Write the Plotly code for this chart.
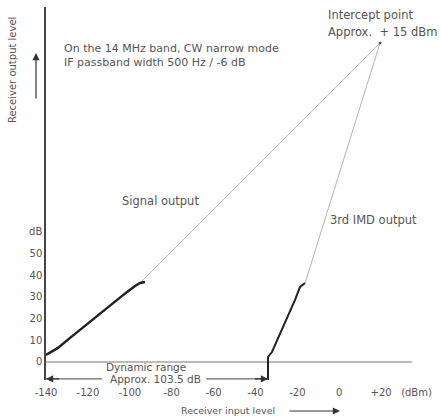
import plotly.graph_objects as go

# ---- data ----
x_ticks = [-140, -120, -100, -80, -60, -40, -20, 0, 20, 36.9]
x_tick_text = ["-140", "-120", "-100", "-80", "-60", "-40", "-20", "0", "+20", "(dBm)"]
y_ticks = [0, 10, 20, 30, 40, 50, 60]
y_tick_text = ["0", "10", "20", "30", "40", "50", "dB"]

# measured signal output (thick curve)
sig_x = [-140, -134.3, -128.5, -121.4, -114.2, -107, -101.3, -97.5, -95.1, -92.7]
sig_y = [3.2, 6.5, 11.1, 16.6, 22.6, 28.1, 32.3, 35.0, 36.4, 36.9]

# measured 3rd IMD output (thick curve)
imd_x = [-34, -34, -32.1, -26.8, -21.1, -18.7, -16.3]
imd_y = [-8.3, 2.3, 4.6, 16.1, 28.6, 34.6, 36.4]

# intercept point
ip_x, ip_y = 19.5, 147.0
# extrapolation start points
sig_ext_start = (-95.1, 36.4)
imd_ext_start = (-16.3, 36.4)

# noise floor / baseline
base_x = [-140, 34.8]
base_y = [0, 0]

# dynamic range arrow
dr_y = -7.8
dr_left, dr_right = -140, -34

TXT = "#555555"
FONT = "DejaVu Sans"

fig = go.Figure()

fig.add_trace(go.Scatter(x=base_x, y=base_y, mode="lines",
                         line=dict(color="#a8a2a0", width=1.5), cliponaxis=False, hoverinfo="skip"))
fig.add_trace(go.Scatter(x=[sig_ext_start[0], ip_x], y=[sig_ext_start[1], ip_y], mode="lines",
                         line=dict(color="#b4b4b4", width=1), cliponaxis=False, hoverinfo="skip"))
fig.add_trace(go.Scatter(x=[imd_ext_start[0], ip_x], y=[imd_ext_start[1], ip_y], mode="lines",
                         line=dict(color="#b4b4b4", width=1), cliponaxis=False, hoverinfo="skip"))
fig.add_trace(go.Scatter(x=sig_x, y=sig_y, mode="lines",
                         line=dict(color="#222222", width=2.5), cliponaxis=False, hoverinfo="skip"))
fig.add_trace(go.Scatter(x=imd_x, y=imd_y, mode="lines",
                         line=dict(color="#222222", width=2), cliponaxis=False, hoverinfo="skip"))
fig.add_trace(go.Scatter(x=[ip_x], y=[ip_y], mode="markers",
                         marker=dict(color="#555555", size=3), cliponaxis=False, hoverinfo="skip"))
# dynamic range line segments (broken by the label)
fig.add_trace(go.Scatter(x=[dr_left, -113.3], y=[dr_y, dr_y], mode="lines",
                         line=dict(color="#444444", width=1), cliponaxis=False, hoverinfo="skip"))
fig.add_trace(go.Scatter(x=[-63.5, dr_right], y=[dr_y, dr_y], mode="lines",
                         line=dict(color="#444444", width=1), cliponaxis=False, hoverinfo="skip"))

ann = []
def arrow(x, y, ax, ay):
    ann.append(dict(x=x, y=y, ax=ax, ay=ay, xref="x", yref="y", axref="x", ayref="y",
                    text="", showarrow=True, arrowhead=2, arrowsize=1.2, arrowwidth=1.2,
                    arrowcolor="#333333"))

def parrow(x, y, ax, ay):
    ann.append(dict(x=x, y=y, ax=ax, ay=ay, xref="paper", yref="paper",
                    text="", showarrow=True, arrowhead=2, arrowsize=1.2, arrowwidth=1.2,
                    arrowcolor="#333333"))

arrow(dr_left, dr_y, -133, dr_y)
arrow(dr_right, dr_y, -41, dr_y)
parrow(-0.0253, 0.8767, 0, 47)
parrow(0.7443, -0.0831, -52, 0)

def text(x, y, t, xanchor="left", size=11.5, angle=0, ref="x"):
    ann.append(dict(x=x, y=y, xref=ref if ref == "x" else "paper",
                    yref="y" if ref == "x" else "paper", text=t, showarrow=False,
                    xanchor=xanchor, yanchor="middle", align="left", textangle=angle,
                    font=dict(family=FONT, size=size, color=TXT)))

text(-132.4, 144.3, "On the 14 MHz band, CW narrow mode", size=11)
text(-132.4, 138.0, "IF passband width 500 Hz / -6 dB", size=11)
text(-6.3, 159.9, "Intercept point")
text(-6.3, 152.1, "Approx.  + 15 dBm")
text(-85.1, 74.2, "Signal output", xanchor="center")
text(-5.3, 65.4, "3rd IMD output")
text(-112.4, -2.3, "Dynamic range", size=10.5)
text(0.1565, 0.0027, "Approx. 103.5 dB", size=10.5, ref="paper")
text(-0.0861, 0.831, "Receiver output level", xanchor="center", size=10, angle=-90, ref="paper")
text(0.4608, -0.0831, "Receiver input level", xanchor="center", size=9.5, ref="paper")

fig.update_layout(
    width=441, height=416,
    margin=dict(l=46, r=0, t=7, b=36),
    paper_bgcolor="white", plot_bgcolor="white",
    showlegend=False,
    annotations=ann,
    xaxis=dict(range=[-140, 48.6], showgrid=False, zeroline=False, showline=False,
               tickvals=x_ticks, ticktext=x_tick_text, ticks="", ticklabelstandoff=5,
               tickfont=dict(family=FONT, size=10, color=TXT)),
    yaxis=dict(range=[-8.3, 163.6], showgrid=False, zeroline=False, showline=True,
               linecolor="#444444", linewidth=1.5,
               tickvals=y_ticks, ticktext=y_tick_text, ticks="",
               tickfont=dict(family=FONT, size=10, color=TXT)),
)

fig.write_html("out.html", post_script="document.body.style.margin='0';",
               config={"displayModeBar": False})
